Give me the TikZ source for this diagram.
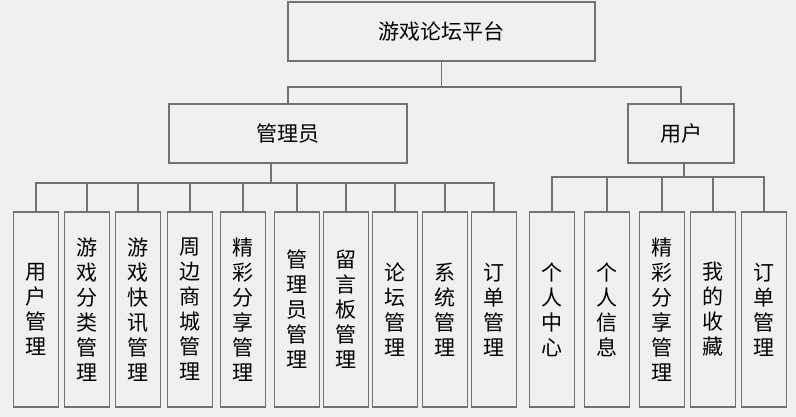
\documentclass[tikz,border=0pt]{standalone}
\usepackage{fontspec}
\newfontfamily\cjk{Noto Sans CJK SC}
\definecolor{bgpaper}{HTML}{F0F0F0}
\definecolor{boxline}{HTML}{727272}
\tikzset{
  box/.style = {draw = boxline, line width = 0.9pt, inner sep = 0pt,
    font = \cjk\fontsize{15.75}{18.75}\selectfont, align = center},
  leaf/.style = {box, minimum width = 33.75pt, minimum height = 146.25pt},
  link/.style = {draw = boxline, line width = 0.9pt}
}

\begin{document}
\begin{tikzpicture}[x = 0.75pt, y = -0.75pt]

    \fill[bgpaper] (0,0) rectangle (796,417);
    \useasboundingbox (0,0) rectangle (796,417);

    \node[box, minimum width = 230.25pt, minimum height = 44.25pt] (root) at (441.5,31.5) {游戏论坛平台};

    \node[box, minimum width = 178.5pt, minimum height = 44.25pt] (admin) at (288,133.5) {管理员};
    \node[box, minimum width = 79.5pt, minimum height = 44.25pt] (user) at (681,133.5) {用户};

    \node[leaf] (a1) at (36,309.5) {用\\户\\管\\理};
    \node[leaf] (a2) at (87,309.5) {游\\戏\\分\\类\\管\\理};
    \node[leaf] (a3) at (138,309.5) {游\\戏\\快\\讯\\管\\理};
    \node[leaf] (a4) at (190,309.5) {周\\边\\商\\城\\管\\理};
    \node[leaf] (a5) at (243,309.5) {精\\彩\\分\\享\\管\\理};
    \node[leaf] (a6) at (297,309.5) {管\\理\\员\\管\\理};
    \node[leaf] (a7) at (346,309.5) {留\\言\\板\\管\\理};
    \node[leaf] (a8) at (395,309.5) {论\\坛\\管\\理};
    \node[leaf] (a9) at (445,309.5) {系\\统\\管\\理};
    \node[leaf] (a10) at (494,309.5) {订\\单\\管\\理};

    \node[leaf] (u1) at (552,309.5) {个\\人\\中\\心};
    \node[leaf] (u2) at (607,309.5) {个\\人\\信\\息};
    \node[leaf] (u3) at (662,309.5) {精\\彩\\分\\享\\管\\理};
    \node[leaf] (u4) at (713,309.5) {我\\的\\收\\藏};
    \node[leaf] (u5) at (764,309.5) {订\\单\\管\\理};

    \coordinate (bus0) at (441.5,87);
    \coordinate (bus1) at (271,183);
    \coordinate (bus2) at (684,177);

      \draw[link] (root.south) -- (bus0);
      \draw[link] (bus0) -| (admin.north);
      \draw[link] (bus0) -| (user.north);

      \draw[link] (bus1 |- admin.south) -- (bus1);
      \draw[link] (bus1) -| (a1.north);
      \draw[link] (bus1) -| (a2.north);
      \draw[link] (bus1) -| (a3.north);
      \draw[link] (bus1) -| (a4.north);
      \draw[link] (bus1) -| (a5.north);
      \draw[link] (bus1) -| (a6.north);
      \draw[link] (bus1) -| (a7.north);
      \draw[link] (bus1) -| (a8.north);
      \draw[link] (bus1) -| (a9.north);
      \draw[link] (bus1) -| (a10.north);

      \draw[link] (bus2 |- user.south) -- (bus2);
      \draw[link] (bus2) -| (u1.north);
      \draw[link] (bus2) -| (u2.north);
      \draw[link] (bus2) -| (u3.north);
      \draw[link] (bus2) -| (u4.north);
      \draw[link] (bus2) -| (u5.north);
  \end{tikzpicture}
\end{document}
